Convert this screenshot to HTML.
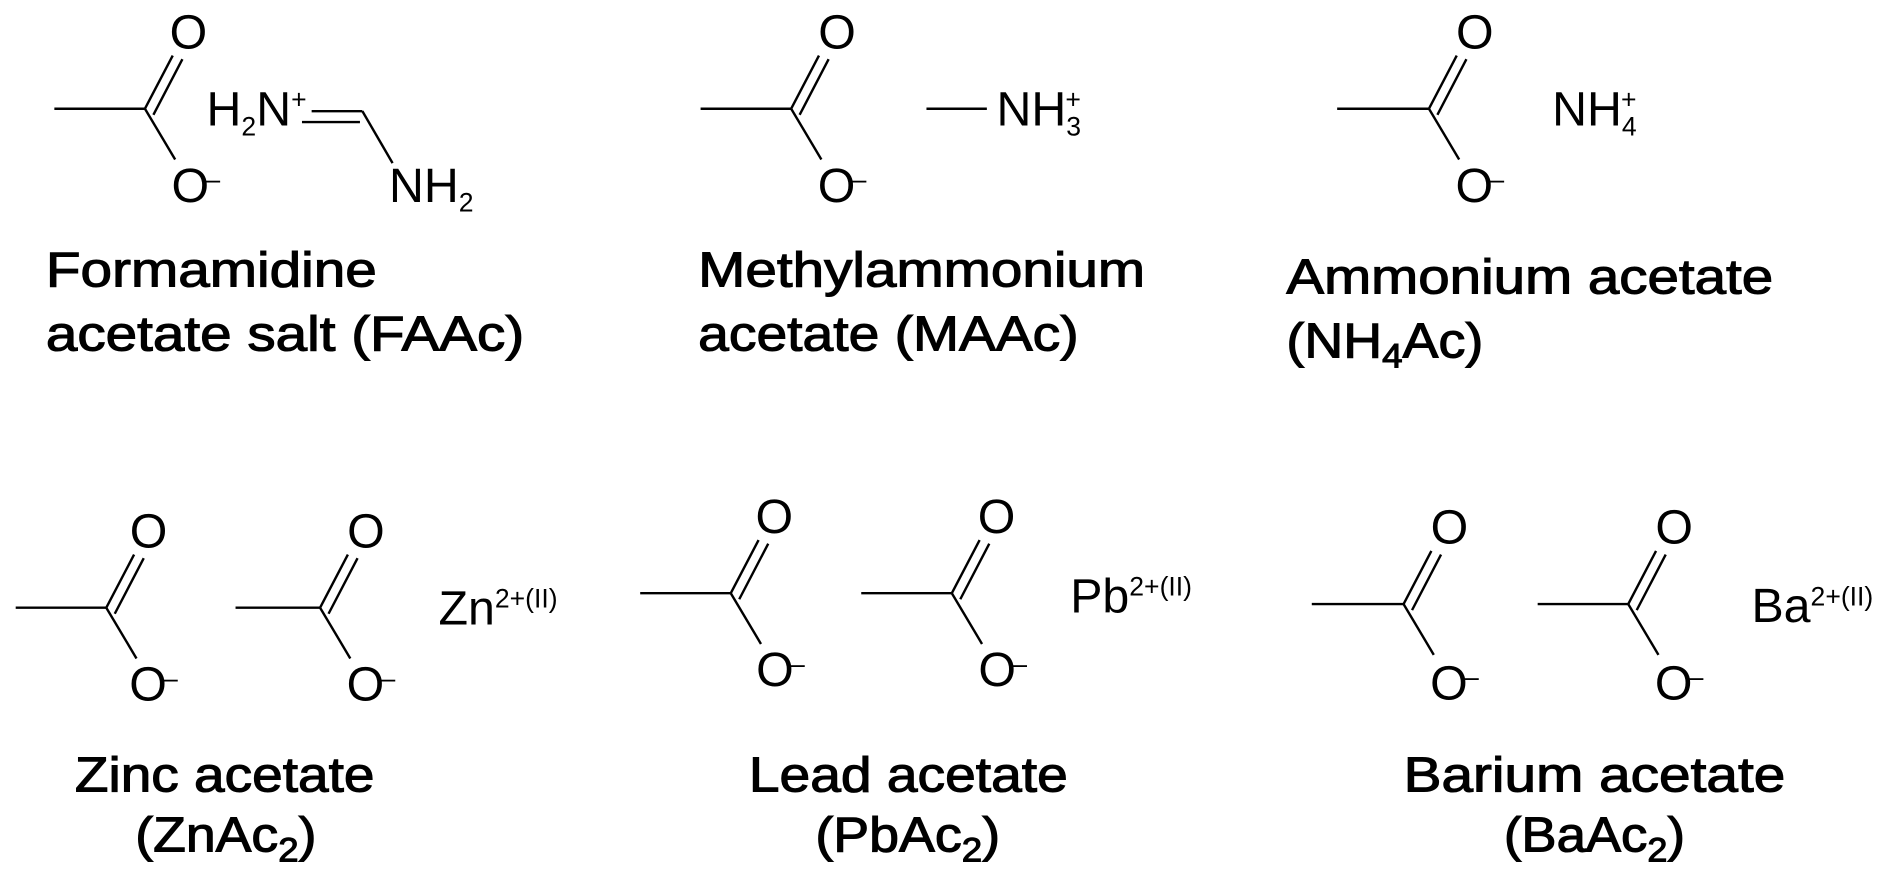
<!DOCTYPE html>
<html><head><meta charset="utf-8"><style>
html,body{margin:0;padding:0;background:#fff;}
svg{display:block}
.a{font-family:"Liberation Sans",sans-serif;font-size:40px;fill:#000}
.s{font-size:22px}
.l{font-family:"Liberation Sans",sans-serif;font-size:41px;fill:#000;stroke:#000;stroke-width:0.9}
line{stroke:#000;stroke-width:2}
</style></head><body>
<svg width="1894" height="888" viewBox="0 0 1568 735" preserveAspectRatio="none" xmlns="http://www.w3.org/2000/svg">
<!-- FAAc -->
<g transform="translate(120,90)">
<line x1="-75" y1="0" x2="0" y2="0"/><line x1="0" y1="0" x2="23" y2="-44"/><line x1="7" y1="5" x2="31" y2="-41"/><line x1="0" y1="0" x2="25" y2="42"/>
<text class="a" x="36" y="-50" text-anchor="middle">O</text>
<text class="a" x="22" y="77">O</text><text class="a s" x="50" y="66">–</text>
</g>
<text class="a" x="171" y="104">H<tspan class="s" dy="8">2</tspan><tspan dy="-8">N</tspan><tspan class="s" dy="-14">+</tspan></text>
<line x1="258" y1="92" x2="300" y2="92"/><line x1="250" y1="101" x2="298" y2="101"/><line x1="300" y1="92" x2="325" y2="135"/>
<text class="a" x="322" y="167">NH<tspan class="s" dy="8">2</tspan></text>
<text class="l" x="38" y="237" textLength="274" lengthAdjust="spacingAndGlyphs">Formamidine</text>
<text class="l" x="38" y="290" textLength="396" lengthAdjust="spacingAndGlyphs">acetate salt (FAAc)</text>
<!-- MAAc -->
<g transform="translate(655,90)">
<line x1="-75" y1="0" x2="0" y2="0"/><line x1="0" y1="0" x2="23" y2="-44"/><line x1="7" y1="5" x2="31" y2="-41"/><line x1="0" y1="0" x2="25" y2="42"/>
<text class="a" x="38" y="-50" text-anchor="middle">O</text>
<text class="a" x="22" y="77">O</text><text class="a s" x="50" y="66">–</text>
</g>
<line x1="767" y1="90" x2="817" y2="90"/>
<text class="a" x="825" y="104">NH<tspan class="s" dy="8">3</tspan><tspan class="s" dx="-13" dy="-22">+</tspan></text>
<text class="l" x="578" y="237" textLength="370" lengthAdjust="spacingAndGlyphs">Methylammonium</text>
<text class="l" x="578" y="290" textLength="315" lengthAdjust="spacingAndGlyphs">acetate (MAAc)</text>
<!-- NH4Ac -->
<g transform="translate(1183,90)">
<line x1="-76" y1="0" x2="0" y2="0"/><line x1="0" y1="0" x2="23" y2="-44"/><line x1="7" y1="5" x2="31" y2="-41"/><line x1="0" y1="0" x2="25" y2="42"/>
<text class="a" x="38" y="-50" text-anchor="middle">O</text>
<text class="a" x="22" y="77">O</text><text class="a s" x="50" y="66">–</text>
</g>
<text class="a" x="1285" y="104">NH<tspan class="s" dy="8">4</tspan><tspan class="s" dx="-13" dy="-22">+</tspan></text>
<text class="l" x="1065" y="243" textLength="403" lengthAdjust="spacingAndGlyphs">Ammonium acetate</text>
<text class="l" x="1065" y="296" textLength="163" lengthAdjust="spacingAndGlyphs">(NH<tspan font-size="28" dy="8">4</tspan><tspan dy="-8">Ac)</tspan></text>
<!-- Zn -->
<g transform="translate(88,503)">
<line x1="-75" y1="0" x2="0" y2="0"/><line x1="0" y1="0" x2="23" y2="-44"/><line x1="7" y1="5" x2="31" y2="-41"/><line x1="0" y1="0" x2="25" y2="42"/>
<text class="a" x="35" y="-50" text-anchor="middle">O</text>
<text class="a" x="19" y="77">O</text><text class="a s" x="47" y="66">–</text>
</g>
<g transform="translate(265,503)">
<line x1="-70" y1="0" x2="0" y2="0"/><line x1="0" y1="0" x2="23" y2="-44"/><line x1="7" y1="5" x2="31" y2="-41"/><line x1="0" y1="0" x2="25" y2="42"/>
<text class="a" x="38" y="-50" text-anchor="middle">O</text>
<text class="a" x="22" y="77">O</text><text class="a s" x="50" y="66">–</text>
</g>
<text class="a" x="363" y="517">Zn<tspan class="s" dy="-14">2+(II)</tspan></text>
<text class="l" x="62" y="655" textLength="248" lengthAdjust="spacingAndGlyphs">Zinc acetate</text>
<text class="l" x="112" y="705" textLength="150" lengthAdjust="spacingAndGlyphs">(ZnAc<tspan font-size="28" dy="8">2</tspan><tspan dy="-8">)</tspan></text>
<!-- Pb -->
<g transform="translate(605,491)">
<line x1="-75" y1="0" x2="0" y2="0"/><line x1="0" y1="0" x2="23" y2="-44"/><line x1="7" y1="5" x2="31" y2="-41"/><line x1="0" y1="0" x2="25" y2="42"/>
<text class="a" x="36" y="-50" text-anchor="middle">O</text>
<text class="a" x="21" y="77">O</text><text class="a s" x="49" y="66">–</text>
</g>
<g transform="translate(788,491)">
<line x1="-75" y1="0" x2="0" y2="0"/><line x1="0" y1="0" x2="23" y2="-44"/><line x1="7" y1="5" x2="31" y2="-41"/><line x1="0" y1="0" x2="25" y2="42"/>
<text class="a" x="37" y="-50" text-anchor="middle">O</text>
<text class="a" x="22" y="77">O</text><text class="a s" x="50" y="66">–</text>
</g>
<text class="a" x="886" y="507">Pb<tspan class="s" dy="-14">2+(II)</tspan></text>
<text class="l" x="620" y="655" textLength="264" lengthAdjust="spacingAndGlyphs">Lead acetate</text>
<text class="l" x="675" y="705" textLength="153" lengthAdjust="spacingAndGlyphs">(PbAc<tspan font-size="28" dy="8">2</tspan><tspan dy="-8">)</tspan></text>
<!-- Ba -->
<g transform="translate(1162,500)">
<line x1="-76" y1="0" x2="0" y2="0"/><line x1="0" y1="0" x2="23" y2="-44"/><line x1="7" y1="5" x2="31" y2="-41"/><line x1="0" y1="0" x2="25" y2="42"/>
<text class="a" x="38" y="-50" text-anchor="middle">O</text>
<text class="a" x="22" y="79">O</text><text class="a s" x="50" y="68">–</text>
</g>
<g transform="translate(1348,500)">
<line x1="-75" y1="0" x2="0" y2="0"/><line x1="0" y1="0" x2="23" y2="-44"/><line x1="7" y1="5" x2="31" y2="-41"/><line x1="0" y1="0" x2="25" y2="42"/>
<text class="a" x="38" y="-50" text-anchor="middle">O</text>
<text class="a" x="22" y="79">O</text><text class="a s" x="50" y="68">–</text>
</g>
<text class="a" x="1450" y="515">Ba<tspan class="s" dy="-14">2+(II)</tspan></text>
<text class="l" x="1162" y="655" textLength="316" lengthAdjust="spacingAndGlyphs">Barium acetate</text>
<text class="l" x="1245" y="705" textLength="150" lengthAdjust="spacingAndGlyphs">(BaAc<tspan font-size="28" dy="8">2</tspan><tspan dy="-8">)</tspan></text>
</svg>
</body></html>
